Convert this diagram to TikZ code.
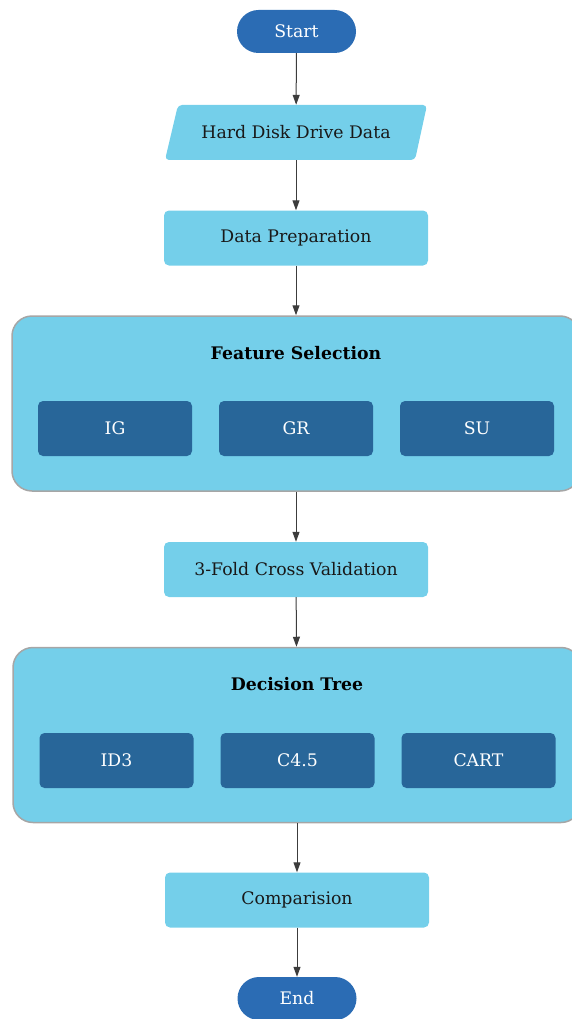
\documentclass[tikz,border=0pt]{standalone}
\usepackage{fontspec}
\setmainfont{DejaVu Serif}
\usetikzlibrary{arrows.meta, positioning, shapes.geometric}
\definecolor{CBlueDark}{HTML}{2B6CB4}
\definecolor{CBlueLight}{HTML}{74CFEA}
\definecolor{CBlueMid}{HTML}{286699}
\definecolor{CGrayEdge}{HTML}{A6A6A6}
\definecolor{CArrow}{HTML}{3C3C3C}
\newcommand{\lblfont}{\fontsize{17.3}{20}\selectfont}

\begin{document}
\begin{tikzpicture}[x=1pt, y=-1pt,
  terminal/.style={fill=CBlueDark, text=white, rounded corners=21.5pt, minimum width=119pt, minimum height=43pt, font=\lblfont},
  process/.style={fill=CBlueLight, text=black!90, rounded corners=5pt, minimum width=264pt, minimum height=55pt, font=\lblfont},
  iobox/.style={text=black!90, minimum width=250pt, minimum height=55pt, inner sep=0pt, font=\lblfont},
  group/.style={fill=CBlueLight, draw=CGrayEdge, line width=1.5pt, rounded corners=20pt, minimum width=568pt, minimum height=175pt},
  method/.style={fill=CBlueMid, text=white, rounded corners=5pt, minimum width=154pt, minimum height=55pt, font=\lblfont},
  flow/.style={draw=CArrow, line width=1pt, -{Triangle[length=10pt, width=7pt]}}]
  \useasboundingbox (0,0) rectangle (572,1019);
  % Top of the flow
  \node[terminal] (start) at (296.5, 31.5) {Start};
  \fill[CBlueLight, rounded corners=4pt] (165, 160) -- (178, 105) -- (427, 105) -- (415, 160) -- cycle; % Data slant
  \node[iobox] (hdd) at (296, 132.5) {Hard Disk Drive Data};
  \node[process] (prep) at (296, 238) {Data Preparation};
  % Feature Selection
  \node[group] (fs) at (296, 403.5) {};
  \node[font=\lblfont\bfseries] (fstitle) at (296, 353) {Feature Selection};
  \node[method] (ig) at (115, 428.5) {IG};
  \node[method] (gr) at (296, 428.5) {GR};
  \node[method] (su) at (477, 428.5) {SU};
  \node[process] (cv) at (296, 569.5) {3-Fold Cross Validation};
  % Decision Tree
  \node[group] (dt) at (297, 735) {};
  \node[font=\lblfont\bfseries] (dttitle) at (297, 684) {Decision Tree};
  \node[method] (id3) at (116.5, 760.5) {ID3};
  \node[method] (c45) at (297.5, 760.5) {C4.5};
  \node[method] (cart) at (478.5, 760.5) {CART};
  % Bottom of the flow
  \node[process] (comp) at (297, 900) {Comparision};
  \node[terminal] (end) at (297, 998.5) {End};
  % Arrows
  \draw[flow] (start) -- (hdd);
  \draw[flow] (hdd) -- (prep);
  \draw[flow] (prep) -- (fs);
  \draw[flow] (fs) -- (cv);
  \draw[flow] (cv) -- (dt);
  \draw[flow] (dt) -- (comp);
  \draw[flow] (comp) -- (end);
\end{tikzpicture}
\end{document}
